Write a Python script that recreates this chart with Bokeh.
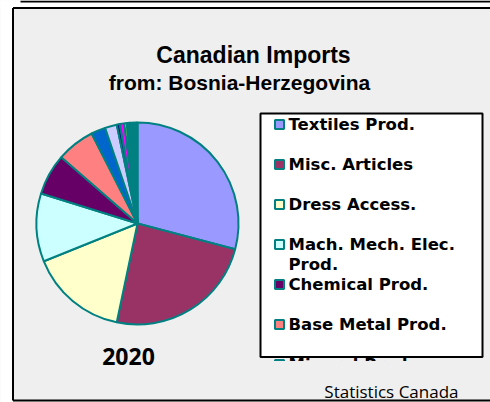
import numpy as np
import textwrap
from bokeh.plotting import figure
from bokeh.models import Range1d, ColumnDataSource
from bokeh.core.properties import value
from bokeh.embed import file_html
from bokeh.resources import INLINE

# ---- data ----
categories = [
    "Textiles Prod.", "Misc. Articles", "Dress Access.", "Mach. Mech. Elec. Prod.",
    "Chemical Prod.", "Base Metal Prod.", "Mineral Prod.", "Plastics & Rubber",
    "Wood Prod.", "Stone & Glass", "Footwear", "Vegetable Prod.",
    "Foodstuffs", "Transport. Equip.", "Animal Prod.", "Leather Prod.",
]
shares = [29.1, 24.2, 15.6, 10.9, 6.6, 6.1, 2.3, 1.9, 0.5, 0.7, 0.4, 0.2, 0.2, 0.2, 0.9, 0.2]
colors = [
    "#9999FF", "#993366", "#FFFFCC", "#CCFFFF", "#660066", "#FF8080", "#0066CC", "#CCCCFF",
    "#000080", "#FF00FF", "#FFFF00", "#00FFFF", "#800080", "#800000", "#008080", "#0000FF",
]
year_label = "2020"
title = "Canadian Imports"
subtitle = "from: Bosnia-Herzegovina"
source_label = "Statistics Canada"

W, H = 490, 402
def Y(py):
    return H - py

p = figure(width=W, height=H, x_range=Range1d(0, W), y_range=Range1d(0, H),
           output_backend="svg", toolbar_location=None, min_border=0,
           x_axis_type=None, y_axis_type=None)
p.grid.visible = False
p.outline_line_color = None
p.background_fill_color = BG = "#EFEFEF"
p.border_fill_color = BG
p.margin = (0, -8, -8, 0)

TEAL = "#008080"

# white margin left of / above the frame
p.quad(left=[-5, -5], right=[12.5, W + 10], top=[H + 5, H + 5], bottom=[-5, Y(7.5)],
       fill_color="white", line_color=None)
# frame (open on the right) and top rule
p.segment(x0=[20, 12.5, 12.5, 12.5], y0=[Y(1), Y(7.5), Y(400), Y(7.5)],
          x1=[W + 5, W + 5, W + 5, 12.5], y1=[Y(1), Y(7.5), Y(400), Y(400)],
          line_color="black", line_width=2)

# titles
p.text(x=[253], y=[Y(54)], text=[title], text_font=value("Liberation Sans"),
       text_font_style="bold", text_font_size="23px", text_align="center",
       text_baseline="alphabetic", text_color="black")
p.text(x=[239], y=[Y(82)], text=[subtitle], text_font=value("Liberation Sans"),
       text_font_style="bold", text_font_size="21px", text_align="center",
       text_baseline="alphabetic", text_color="black")

# pie
vals = np.array(shares, dtype=float)
frac = vals / vals.sum()
cum = np.concatenate([[0.0], np.cumsum(frac)])
start = np.pi / 2 - 2 * np.pi * cum[:-1]
end = np.pi / 2 - 2 * np.pi * cum[1:]
src = ColumnDataSource(dict(start=start, end=end, color=colors, name=categories))
p.wedge(x=137, y=Y(223), radius=101, start_angle="start", end_angle="end",
        direction="clock", fill_color="color", line_color=TEAL, line_width=2, source=src)

p.text(x=[128], y=[Y(356)], text=[year_label], text_font=value("Open Sans"),
       text_font_style="bold", text_font_size="23px", text_align="center",
       text_baseline="alphabetic", text_color="black")

# legend box
p.quad(left=[260], right=[482], top=[Y(113)], bottom=[Y(356.5)],
       fill_color="white", line_color="black", line_width=2)

mk_x, mk_y, mk_c = [], [], []
tx, ty, tt = [], [], []
for i, (name, c) in enumerate(zip(categories, colors)):
    yc = 124 + 40 * i
    if yc > 380:
        break
    mk_x.append(279); mk_y.append(Y(yc)); mk_c.append(c)
    for j, line in enumerate(textwrap.wrap(name, 18)):
        tx.append(288); ty.append(Y(yc + 20 * j)); tt.append(line)
p.rect(x=mk_x, y=mk_y, width=9, height=9, fill_color=mk_c, line_color=TEAL, line_width=2)
p.text(x=tx, y=ty, text=tt, text_font=value("DejaVu Sans"), text_font_style="bold",
       text_font_size="16.5px", text_align="left", text_baseline="middle", text_color="black")

# clip overflow of legend items
p.quad(left=[258], right=[484], top=[Y(360.5)], bottom=[Y(375)], fill_color=BG, line_color=None)

p.text(x=[458], y=[Y(391)], text=[source_label], text_font=value("Open Sans"),
       text_font_size="17px", text_align="right", text_baseline="alphabetic",
       text_color="black")

open("out.html", "w").write(file_html(p, INLINE))
